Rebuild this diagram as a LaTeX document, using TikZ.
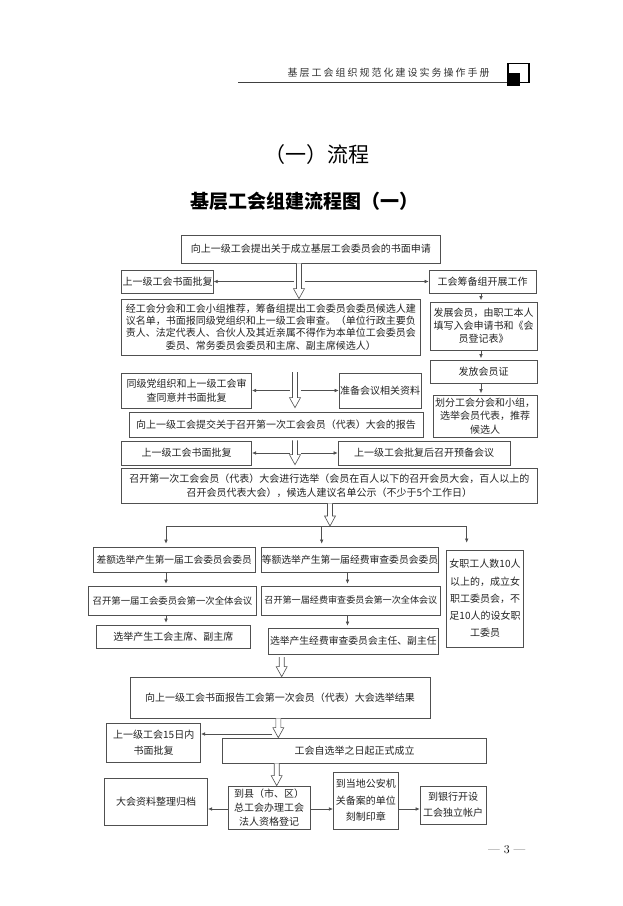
\documentclass[tikz,border=0pt]{standalone}
\usepackage{fontspec}
\usetikzlibrary{calc,arrows.meta}
\newfontfamily\cjk{Noto Sans CJK SC}
\newfontfamily\cjkhead[LetterSpace=20]{Noto Sans CJK SC}
\definecolor{boxc}{RGB}{80,80,80}
\definecolor{txtc}{RGB}{35,35,35}
\newcommand\bx[7][]{\node[box,minimum width={(#4)-(#3)},minimum height={(#6)-(#5)},#1] (#2) at ({((#3)+(#4))/2},{((#5)+(#6))/2}) {#7};}
\newcommand\harrow[2]{\draw[harr] let \p1=#1, \p2=#2 in (\x1-2.5pt,\y1) -- (\x1-2.5pt,\y2+10pt) -- (\x1-5.5pt,\y2+10pt) -- (\x1,\y2) -- (\x1+5.5pt,\y2+10pt) -- (\x1+2.5pt,\y2+10pt) -- (\x1+2.5pt,\y1);}
\begin{document}
\begin{tikzpicture}[x=1pt,y=-1pt,
  box/.style={draw=boxc,line width=0.7pt,inner sep=0pt,text=txtc,align=center,font=\cjk\fontsize{10}{13}\selectfont},
  arr/.style={draw=boxc,line width=0.6pt,-{Latex[length=4pt,width=3.6pt]}},
  harr/.style={draw=boxc,line width=0.6pt,fill=white},
  plain/.style={draw=boxc,line width=0.6pt}]
\useasboundingbox[fill=white] (0,0) rectangle (623,906);
% header
\draw[line width=1.5pt,draw=black!75] (238,82.5) -- (529,82.5);
\draw[line width=1.3pt] (508,63.5) rectangle (529,82.5);
\fill (506.5,72.5) rectangle (519.5,85.5);
\node[font=\cjkhead\fontsize{10}{12}\selectfont,text=black!80] (hdr) at (388.5,73) {基层工会组织规范化建设实务操作手册};
% titles
\node[font=\cjk\fontsize{21}{24}\selectfont] (t1) at (316.5,155) {（一）流程};
\node[font=\cjk\bfseries\fontsize{19}{22}\selectfont] (t2) at (304,201.5) {基层工会组建流程图（一）};
% boxes
\bx{A}{181.7}{440}{235}{263}{向上一级工会提出关于成立基层工会委员会的书面申请}
\bx{B}{121.7}{213.3}{270}{293}{上一级工会书面批复}
\bx{C}{429}{536}{270}{293}{工会筹备组开展工作}
\bx[font=\cjk\fontsize{10}{12.3}\selectfont]{D}{121.7}{420}{299}{355}{经工会分会和工会小组推荐，筹备组提出工会委员会委员候选人建\\议名单，书面报同级党组织和上一级工会审查。（单位行政主要负\\责人、法定代表人、合伙人及其近亲属不得作为本单位工会委员会\\委员、常务委员会委员和主席、副主席候选人）}
\bx{E}{430}{537}{302}{350}{发展会员，由职工本人\\填写入会申请书和《会\\员登记表》}
\bx{F}{430}{537}{360}{383}{发放会员证}
\bx[font=\cjk\fontsize{10}{13.5}\selectfont]{G}{433}{537}{395}{437}{划分工会分会和小组，\\选举会员代表，推荐\\候选人}
\bx[font=\cjk\fontsize{10}{13.5}\selectfont]{H}{121.7}{251.7}{373}{408}{同级党组织和上一级工会审\\查同意并书面批复}
\bx{I}{339}{421}{373}{408}{准备会议相关资料}
\bx{J}{129}{423}{412}{437}{向上一级工会提交关于召开第一次工会会员（代表）大会的报告}
\bx{K}{121.7}{251.7}{441}{465}{上一级工会书面批复}
\bx{L}{338}{510}{441}{465}{上一级工会批复后召开预备会议}
\bx[font=\cjk\fontsize{10}{13.5}\selectfont]{M}{121.7}{537}{468}{503}{召开第一次工会会员（代表）大会进行选举（会员在百人以下的召开会员大会，百人以上的\\召开会员代表大会），候选人建议名单公示（不少于5个工作日）}
\bx[font=\cjk\fontsize{9.7}{12}\selectfont]{N}{93.3}{255}{547}{572}{差额选举产生第一届工会委员会委员}
\bx[font=\cjk\fontsize{9.8}{12}\selectfont]{O}{261.7}{438.3}{547}{572}{等额选举产生第一届经费审查委员会委员}
\bx[font=\cjk\fontsize{10}{17.2}\selectfont]{P}{446.7}{523.3}{550}{647}{女职工人数10人\\以上的，成立女\\职工委员会，不\\足10人的设女职\\工委员}
\bx[font=\cjk\fontsize{9.4}{12}\selectfont]{Q}{88.3}{256.7}{586}{615}{召开第一届工会委员会第一次全体会议}
\bx[font=\cjk\fontsize{9.1}{12}\selectfont]{R}{261.7}{440}{586}{615}{召开第一届经费审查委员会第一次全体会议}
\bx{S}{96.7}{250}{625}{648}{选举产生工会主席、副主席}
\bx[font=\cjk\fontsize{9.8}{12}\selectfont]{T}{268.3}{438.3}{628}{654}{选举产生经费审查委员会主任、副主任}
\bx{U}{130}{430}{677}{718}{向上一级工会书面报告工会第一次会员（代表）大会选举结果}
\bx[font=\cjk\fontsize{10}{16}\selectfont]{V}{106.7}{200.7}{723}{762}{上一级工会15日内\\书面批复}
\bx{W}{222.7}{486.7}{738}{763}{工会自选举之日起正式成立}
\bx{X}{104.3}{207.7}{778}{825}{大会资料整理归档}
\bx[font=\cjk\fontsize{10}{14}\selectfont]{Y}{228.3}{310}{786}{829}{到县（市、区）\\总工会办理工会\\法人资格登记}
\bx[font=\cjk\fontsize{10}{16.5}\selectfont]{Z}{333.3}{398.3}{772}{829}{到当地公安机\\关备案的单位\\刻制印章}
\bx[font=\cjk\fontsize{10}{16}\selectfont]{AA}{420}{486}{786}{824}{到银行开设\\工会独立帐户}
% page number
\node[font=\fontsize{12}{14}\selectfont] (pg) at (506.7,850) {— 3 —};
% hollow arrow 1 and its side arrows
\coordinate (h1) at (299,0);
\harrow{(A.south -| h1)}{(D.north -| h1)}
\coordinate (h1l) at (294,281.5);
\coordinate (h1r) at (304.5,281.5);
\draw[arr] (h1l) -- (B.east);
\draw[arr] (h1r) -- (C.west);
% right column
\coordinate (rc) at (481,0);
\draw[arr,shorten >=1.5pt] (C.south -| rc) -- (E.north -| rc);
\draw[arr,shorten >=1.5pt] (E.south -| rc) -- (F.north -| rc);
\draw[arr,shorten >=1.5pt] (F.south -| rc) -- (G.north -| rc);
% hollow arrow 2
\coordinate (h2s) at (295,372);
\harrow{(h2s)}{($(J.north -| h2s)+(0,-4)$)}
\coordinate (h2l) at (289.5,390.5);
\coordinate (h2r) at (300.5,390.5);
\draw[arr] (h2l) -- (H.east);
\draw[arr] (h2r) -- (I.west);
% hollow arrow 3
\coordinate (h3) at (295,0);
\harrow{($(J.south -| h3)+(0,3)$)}{($(M.north -| h3)+(0,-3)$)}
\coordinate (h3l) at (289.5,453);
\coordinate (h3r) at (300.5,453);
\draw[arr] (h3l) -- (K.east);
\draw[arr] (h3r) -- (L.west);
% hollow arrow 4 and distribution bar
\coordinate (bar) at (330,526);
\harrow{(M.south -| bar)}{(bar)}
\coordinate (bl) at (166,526);
\coordinate (bm) at (321.7,526);
\coordinate (br) at (466.7,526);
\draw[plain] (bl) -- (br);
\draw[arr,shorten >=3pt] (bl) -- (N.north -| bl);
\draw[arr,shorten >=3pt] (bm) -- (O.north -| bm);
\draw[arr,shorten >=7pt] (br) -- (P.north -| br);
\draw[arr,shorten >=2pt] (N.south -| bl) -- (Q.north -| bl);
\draw[arr,shorten >=2pt] (Q.south -| bl) -- (S.north -| bl);
\coordinate (oc) at (347.5,0);
\draw[arr,shorten >=2pt] (O.south -| oc) -- (R.north -| oc);
\draw[arr,shorten >=2pt] (R.south -| oc) -- (T.north -| oc);
% hollow arrow 5
\coordinate (h5s) at (281.7,657);
\harrow{(h5s)}{(U.north -| h5s)}
% hollow arrow 6
\coordinate (h6) at (278.3,0);
\harrow{(U.south -| h6)}{(W.north -| h6)}
\coordinate (h6l) at (272,734);
\draw[arr] (h6l) -- (V.east |- h6l);
% hollow arrow 7
\coordinate (h7) at (276.7,0);
\harrow{(W.south -| h7)}{(Y.north -| h7)}
% bottom row arrows
\coordinate (r8) at (0,809);
\draw[arr] (Y.west |- r8) -- (X.east |- r8);
\draw[arr] (Y.east |- r8) -- (Z.west |- r8);
\draw[arr] (Z.east |- r8) -- (AA.west |- r8);
\end{tikzpicture}
\end{document}
